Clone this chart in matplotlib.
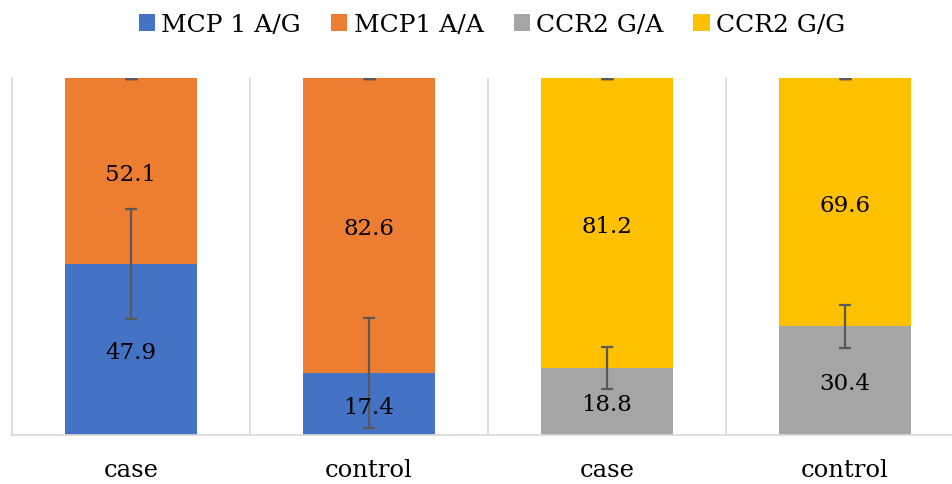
import matplotlib
matplotlib.use("Agg")
import matplotlib.pyplot as plt
import numpy as np

groups = ["case", "control", "case", "control"]
mcp_ag = [47.9, 17.4, 0, 0]
mcp_aa = [52.1, 82.6, 0, 0]
ccr_ga = [0, 0, 18.8, 30.4]
ccr_gg = [0, 0, 81.2, 69.6]
err_low = [15.3, 15.3, 5.9, 5.9]

plt.rcParams['font.family'] = ['DejaVu Serif']
fs = 16.5

fig = plt.figure(figsize=(9.52, 4.84), dpi=100)
ax = fig.add_axes([12/952, 49/484, 940/952, 357/484])

x = np.arange(len(groups))
w = 0.555
b1 = ax.bar(x, mcp_ag, w, color="#4472C4", label="MCP 1 A/G")
b2 = ax.bar(x, mcp_aa, w, bottom=mcp_ag, color="#ED7D31", label="MCP1 A/A")
b3 = ax.bar(x, ccr_ga, w, color="#A5A5A5", label="CCR2 G/A")
b4 = ax.bar(x, ccr_gg, w, bottom=ccr_ga, color="#FFC000", label="CCR2 G/G")

# error bars at the lower segment top, and zero-length ones at 100
lower = [a + c for a, c in zip(mcp_ag, ccr_ga)]
ax.errorbar(x, lower, yerr=err_low, fmt="none", ecolor="#595959",
            elinewidth=1.6, capsize=4.5, capthick=1.6)
ax.errorbar(x, [100]*4, yerr=0, fmt="none", ecolor="#595959",
            elinewidth=1.6, capsize=4.5, capthick=2.5)

for i in range(len(groups)):
    lo = lower[i]
    hi = 100 - lo
    ax.text(x[i], lo/2 - 1, f"{lo:.1f}", ha="center", va="center", fontsize=fs)
    ax.text(x[i], lo + hi/2 - 1, f"{hi:.1f}", ha="center", va="center", fontsize=fs)

ax.set_xlim(-0.5, 3.45)
ax.set_ylim(0, 100)
ax.set_yticks([])
ax.set_xticks(x)
ax.set_xticklabels(groups, fontsize=17.5)
ax.tick_params(axis="x", length=0, pad=17)
for xv in [0.5, 1.5, 2.5]:
    ax.axvline(xv, color="#D9D9D9", lw=1.2, zorder=0)
for s in ["top", "right"]:
    ax.spines[s].set_visible(False)
ax.spines["left"].set_color("#D9D9D9")
ax.spines["bottom"].set_color("#D9D9D9")
ax.spines["left"].set_linewidth(1.2)
ax.spines["bottom"].set_linewidth(1.2)

fig.legend(handles=[b1, b2, b3, b4], loc="center", bbox_to_anchor=(492/952, 1 - 25/484),
           ncol=4, frameon=False, fontsize=18, handlelength=0.65, handleheight=0.65,
           handletextpad=0.25, columnspacing=1.2)

plt.savefig("out.png", dpi=100)
